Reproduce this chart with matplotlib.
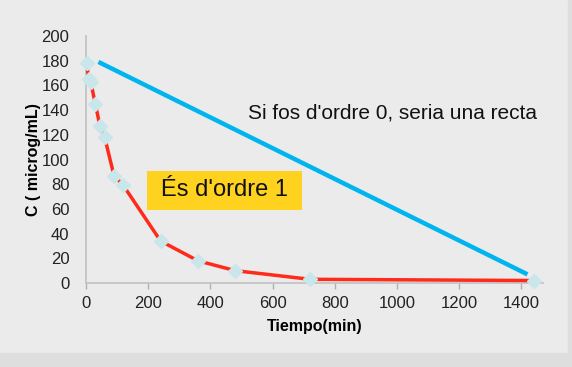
import matplotlib
matplotlib.use("Agg")
import matplotlib.pyplot as plt

plt.rcParams["font.family"] = ["Liberation Sans", "DejaVu Sans"]

# ── Data ───────────────────────────────────────────────────────────────
tiempo = [2, 9, 15, 30, 45, 60, 90, 120, 240, 360, 480, 720, 1440]
conc = [178, 165, 163, 145, 127, 118, 87, 79, 34, 18, 10, 3, 2]

# reference "order 0" straight line (start / end points)
recta_t = [40, 1420]
recta_c = [179, 7]

xticks = list(range(0, 1401, 200))
yticks = list(range(0, 201, 20))

# ── Figure ─────────────────────────────────────────────────────────────
bg = "#ebebeb"
fig = plt.figure(figsize=(5.72, 3.67), dpi=100, facecolor=bg)

# darker frame strips at the bottom and right edge
fig.patches.append(plt.Rectangle((0, 0), 1, 14 / 367, transform=fig.transFigure,
                                 color="#dedede", zorder=0))
fig.patches.append(plt.Rectangle((568 / 572, 0), 4 / 572, 1, transform=fig.transFigure,
                                 color="#dedede", zorder=0))

ax = fig.add_axes([86 / 572, 84 / 367, 457 / 572, 247 / 367])
ax.set_facecolor(bg)

ax.plot(recta_t, recta_c, color="#00b4f0", lw=3.2, solid_capstyle="butt", zorder=3)
ax.plot(tiempo, conc, color="#ff2a1a", lw=2.5, zorder=3)
ax.plot(tiempo, conc, ls="none", marker="D", ms=7, mfc="#c9e6ea", mec="#c9e6ea",
        zorder=4, clip_on=False)

ax.set_xlim(0, 1470)
ax.set_ylim(0, 200)
ax.set_xticks(xticks)
ax.set_yticks(yticks)

for s in ["top", "right"]:
    ax.spines[s].set_visible(False)
for s in ["left", "bottom"]:
    ax.spines[s].set_color("#c4c4c4")
    ax.spines[s].set_linewidth(1.3)

ax.tick_params(axis="x", length=4, width=1, color="#b0b0b0", labelsize=12,
               labelcolor="#222222", pad=5)
ax.tick_params(axis="y", length=0, labelsize=12, labelcolor="#222222", pad=12)

ax.set_xlabel("Tiempo(min)", fontsize=11.5, fontweight="bold", labelpad=6)
ax.set_ylabel("C ( microg/mL)", fontsize=11.5, fontweight="bold", labelpad=0)

ax.text(1452, 138, "Si fos d'ordre 0, seria una recta", fontsize=15,
        ha="right", va="center", color="#111111")

# yellow label box
ax.add_patch(plt.Rectangle((196, 59), 499, 31.5, fc="#ffd21f", ec="none", zorder=5))
ax.text(444, 75, "És d'ordre 1", fontsize=17, ha="center", va="center",
        color="#111111", zorder=6)

fig.savefig("out.png", dpi=100, facecolor=bg)
